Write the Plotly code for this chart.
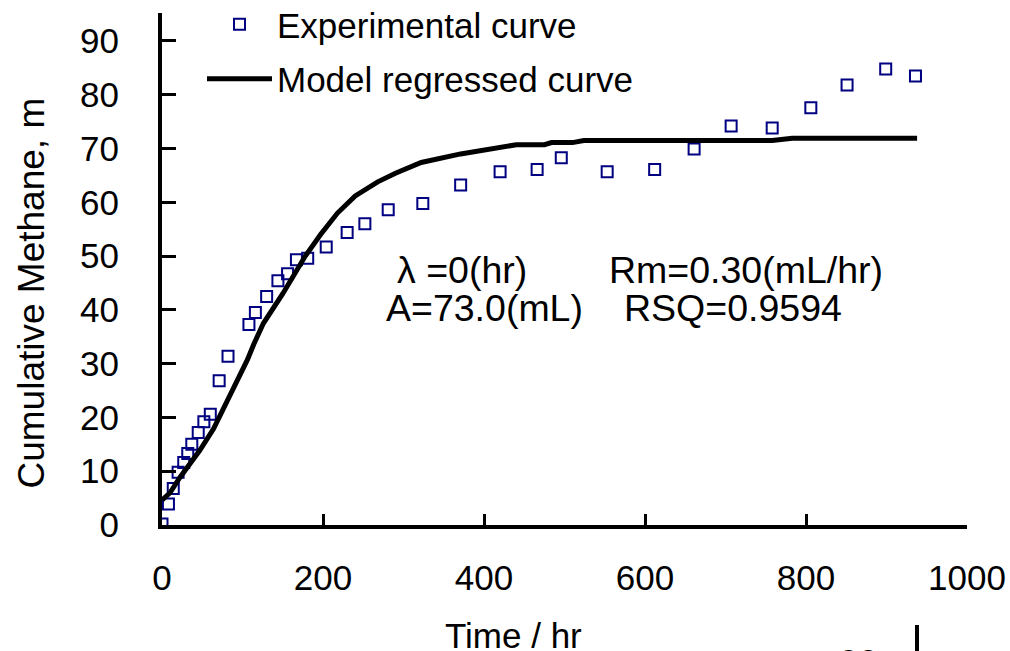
import plotly.graph_objects as go

# Experimental data (time in hr, cumulative methane in mL)
exp_time = [0, 8, 14, 20, 27, 32, 37, 45, 52, 60, 71, 82, 108, 116, 130, 144, 156,
            167, 181, 204, 230, 252, 281, 324, 371, 420, 466, 496, 553, 612, 661,
            707, 758, 806, 851, 899, 936]
exp_methane = [0.2, 3.9, 6.8, 9.8, 11.6, 13.3, 15.0, 17.2, 19.2, 20.6, 26.8, 31.4,
               37.3, 39.5, 42.5, 45.4, 46.7, 49.3, 49.6, 51.7, 54.4, 56.0, 58.6,
               59.8, 63.2, 65.7, 66.1, 68.3, 65.7, 66.1, 69.9, 74.2, 73.8, 77.6,
               81.8, 84.8, 83.5]

# Model regressed curve
model_time = [0, 10, 22, 47, 64, 85, 106, 114, 126, 150, 178, 197, 218, 240, 268,
              290, 322, 371, 420, 440, 475, 484, 510, 524, 758, 783, 938]
model_methane = [4.6, 6.0, 8.8, 13.9, 17.9, 24.2, 30.7, 33.6, 37.5, 43.0, 50.0,
                 54.0, 58.0, 61.2, 63.8, 65.4, 67.4, 69.0, 70.2, 70.7, 70.7, 71.1,
                 71.1, 71.5, 71.5, 71.9, 71.9]

x_ticks = [0, 200, 400, 600, 800, 1000]
y_ticks = [0, 10, 20, 30, 40, 50, 60, 70, 80, 90]

FONT = "Liberation Sans, Arial, sans-serif"

# plot area in pixels
L, R, T, B = 162, 967, 13, 525
W, H = 1010, 651


def px(xp):
    return (xp - L) / (R - L)


def py(yp):
    return (B - yp) / (B - T)


fig = go.Figure()
fig.add_trace(go.Scatter(
    x=exp_time, y=exp_methane, mode="markers", name="Experimental curve",
    legendgroup="a",
    marker=dict(symbol="square-open", size=11, color="#000080",
                line=dict(width=2, color="#000080")),
))
fig.add_trace(go.Scatter(
    x=model_time, y=model_methane, mode="lines", name="Model regressed curve",
    legendgroup="b",
    line=dict(color="black", width=5),
))

annotations = [
    dict(text="λ =0(hr)", x=px(395), y=py(270), xanchor="left", yanchor="middle"),
    dict(text="Rm=0.30(mL/hr)", x=px(607), y=py(270), xanchor="left", yanchor="middle"),
    dict(text="A=73.0(mL)", x=px(384), y=py(308), xanchor="left", yanchor="middle"),
    dict(text="RSQ=0.9594", x=px(622), y=py(308), xanchor="left", yanchor="middle"),
]
for a in annotations:
    a.update(xref="paper", yref="paper", showarrow=False,
             font=dict(family=FONT, size=37.5, color="black"))

annotations.append(dict(text="Time / hr", x=px(513), y=py(635), xref="paper",
                        yref="paper", showarrow=False, xanchor="center",
                        yanchor="middle",
                        font=dict(family=FONT, size=35, color="black")))
annotations.append(dict(text="Cumulative Methane, m", x=px(31), y=py(491),
                        xref="paper", yref="paper", showarrow=False,
                        textangle=-90, xanchor="center", yanchor="bottom",
                        font=dict(family=FONT, size=37, color="black")))
annotations.append(dict(text="90", x=px(880), y=py(640), xref="paper",
                        yref="paper", showarrow=False, xanchor="right",
                        yanchor="top",
                        font=dict(family=FONT, size=35, color="black")))

fig.update_layout(
    width=W, height=H,
    margin=dict(l=L, r=W - R, t=T, b=H - B, pad=0, autoexpand=False),
    paper_bgcolor="white", plot_bgcolor="white",
    font=dict(family=FONT, size=35, color="black"),
    showlegend=True,
    legend=dict(x=px(202), y=py(-5), xanchor="left", yanchor="top",
                bgcolor="rgba(0,0,0,0)", borderwidth=0, itemwidth=65,
                tracegroupgap=6, font=dict(family=FONT, size=35, color="black")),
    annotations=annotations,
    shapes=[dict(type="line", xref="paper", yref="paper",
                 x0=px(917), x1=px(917), y0=py(625), y1=py(670),
                 line=dict(color="black", width=4))],
)
fig.update_xaxes(
    range=[0, 1000], tickvals=x_ticks, ticktext=[str(v) for v in x_ticks],
    showline=True, linecolor="black", linewidth=4, mirror=False,
    ticks="inside", ticklen=11, tickwidth=3, tickcolor="black",
    showgrid=False, zeroline=False, ticklabelstandoff=19,
    tickfont=dict(family=FONT, size=35, color="black"),
)
fig.update_yaxes(
    range=[0, 95.2], tickvals=y_ticks, ticktext=[str(v) for v in y_ticks],
    showline=True, linecolor="black", linewidth=4, mirror=False,
    ticks="inside", ticklen=14, tickwidth=3, tickcolor="black",
    showgrid=False, zeroline=False, ticklabelstandoff=32,
    tickfont=dict(family=FONT, size=35, color="black"),
)

fig.write_html("out.html")
